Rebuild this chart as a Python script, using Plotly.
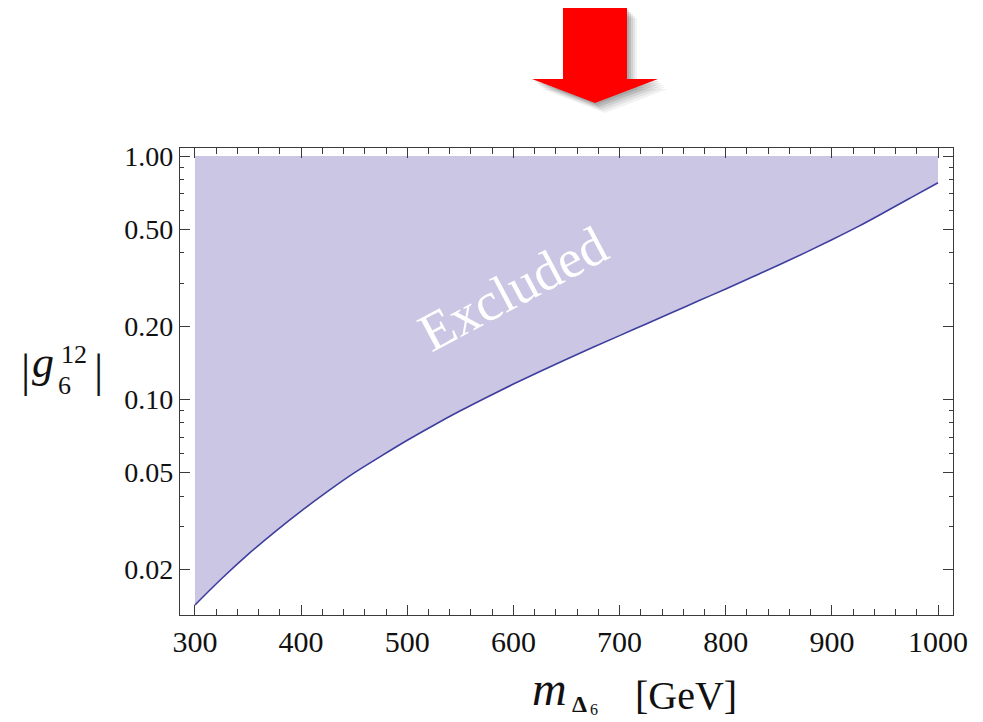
import plotly.graph_objects as go

# ---- data ----
mass = [300, 325, 350, 375, 400, 425, 450, 475, 500, 525, 550, 575, 600, 625, 650,
        675, 700, 725, 750, 775, 800, 825, 850, 875, 900, 925, 950, 975, 1000]
g_limit = [0.01429, 0.01832, 0.02307, 0.02851, 0.03475, 0.04188, 0.04989, 0.05834,
           0.06792, 0.07834, 0.08974, 0.1021, 0.1156, 0.1303, 0.1462, 0.1637,
           0.1828, 0.2042, 0.2280, 0.2547, 0.2844, 0.3184, 0.3565, 0.4009, 0.4529,
           0.5140, 0.5888, 0.6761, 0.7762]
g_top = [1.0, 1.0]
x_ends = [300, 1000]
x_ticks = [300, 400, 500, 600, 700, 800, 900, 1000]
x_minor = [v for v in range(300, 1001, 20) if v % 100 != 0]
y_ticks = [0.02, 0.05, 0.10, 0.20, 0.50, 1.00]
y_ticklabels = ["0.02", "0.05", "0.10", "0.20", "0.50", "1.00"]
y_minor = [0.03, 0.04, 0.06, 0.07, 0.08, 0.09, 0.3, 0.4, 0.6, 0.7, 0.8, 0.9]

OFF = 8  # page body margin
W, H = 983 - OFF, 722 - OFF
L, T = 180 - OFF, 148 - OFF
R = W - (953 - OFF)
B = H - (615 - OFF)
PW, PH = W - L - R, H - T - B


def px(x):
    return (x - OFF - L) / PW


def py(y):
    return (H - B - (y - OFF)) / PH


FILL = "rgb(203,198,227)"
LINE = "rgb(62,62,158)"
AX = "#3a3a3a"
SERIF = "Liberation Serif"

fig = go.Figure()
fig.add_trace(go.Scatter(
    x=x_ends, y=g_top, mode="lines", line=dict(width=0),
    hoverinfo="skip", showlegend=False))
fig.add_trace(go.Scatter(
    x=mass, y=g_limit, mode="lines", fill="tonexty", fillcolor=FILL,
    line=dict(color=LINE, width=1.6, shape="spline"), showlegend=False))

axis_common = dict(
    showline=True, linecolor=AX, linewidth=1.2, mirror="allticks",
    ticks="inside", ticklen=10, tickwidth=1.2, tickcolor=AX,
    showgrid=False, zeroline=False,
)
fig.update_xaxes(
    range=[285.9, 1014.1], tickmode="array", tickvals=x_ticks,
    tickfont=dict(family=SERIF, size=30, color="#111"),
    minor=dict(tickmode="array", tickvals=x_minor, ticks="inside",
               ticklen=6, tickwidth=1, tickcolor=AX),
    **axis_common)
fig.update_yaxes(
    type="log", range=[-1.886, 0.033], tickmode="array",
    tickvals=y_ticks, ticktext=y_ticklabels,
    tickfont=dict(family=SERIF, size=28, color="#111"),
    minor=dict(tickmode="array", tickvals=y_minor, ticks="inside",
               ticklen=4, tickwidth=1, tickcolor=AX),
    **axis_common)

anns = []
# Excluded label
anns.append(dict(x=px(513), y=py(289), xref="paper", yref="paper",
                 text="Excluded", textangle=-28, showarrow=False,
                 font=dict(family=SERIF, size=54, color="white"),
                 xanchor="center", yanchor="middle"))
# y-axis label |g_6^12|
for txt, x, y, sz in [
    ("|", 25, 370, 46),
    ("<i>g</i>", 43, 362, 44),
    ("6", 64, 385, 26),
    ("12", 74, 354, 26),
    ("|", 98, 370, 46),
]:
    anns.append(dict(x=px(x), y=py(y), xref="paper", yref="paper", text=txt,
                     showarrow=False, xanchor="center", yanchor="middle",
                     font=dict(family=SERIF, size=sz, color="#111")))
# x-axis label m_{Δ6} [GeV]
for txt, x, y, sz in [
    ("<i>m</i>", 549, 688, 48),
    ("<b>Δ</b>", 579, 704, 24),
    ("6", 594, 709, 16),
    ("[GeV]", 686, 695, 40),
]:
    anns.append(dict(x=px(x), y=py(y), xref="paper", yref="paper", text=txt,
                     showarrow=False, xanchor="center", yanchor="middle",
                     font=dict(family=SERIF, size=sz, color="#111")))

# red arrow with soft shadow (pixel geometry converted to paper coords)
arrow_px = [(563, 8), (627, 8), (627, 79), (658, 79), (595, 103), (532, 79), (563, 79)]


def arrow_path(dx=0, dy=0):
    pts = [(px(x + dx), py(y + dy)) for x, y in arrow_px]
    return "M " + " L ".join(f"{a:.5f},{b:.5f}" for a, b in pts) + " Z"


shapes = []
for off, op in [(10, 0.05), (8, 0.06), (6, 0.08), (4, 0.1), (2, 0.1)]:
    shapes.append(dict(type="path", xref="paper", yref="paper",
                       path=arrow_path(off, off), fillcolor="black",
                       opacity=op, line=dict(width=0), layer="above"))
shapes.append(dict(type="path", xref="paper", yref="paper",
                   path=arrow_path(), fillcolor="rgb(255,0,0)",
                   line=dict(width=0), layer="above"))

fig.update_layout(
    width=W, height=H, margin=dict(l=L, r=R, t=T, b=B, pad=0),
    plot_bgcolor="white", paper_bgcolor="white",
    font=dict(family=SERIF, color="#111"),
    annotations=anns, shapes=shapes, showlegend=False,
)
fig.write_html("out.html")
